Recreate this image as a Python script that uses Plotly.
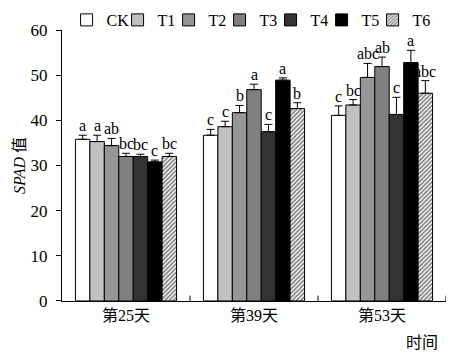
import plotly.graph_objects as go

groups = ["第25天", "第39天", "第53天"]
treatments = ["CK", "T1", "T2", "T3", "T4", "T5", "T6"]
values = {
    "CK": [35.8, 36.7, 41.1],
    "T1": [35.3, 38.6, 43.4],
    "T2": [34.4, 41.7, 49.5],
    "T3": [32.0, 46.8, 51.9],
    "T4": [32.0, 37.5, 41.3],
    "T5": [30.8, 48.9, 52.8],
    "T6": [32.0, 42.6, 46.0],
}
errors = {
    "CK": [0.9, 1.3, 2.1],
    "T1": [1.4, 1.2, 1.2],
    "T2": [1.6, 1.6, 3.1],
    "T3": [0.7, 1.2, 2.1],
    "T4": [0.5, 1.6, 3.8],
    "T5": [0.4, 0.5, 2.7],
    "T6": [0.7, 1.3, 2.8],
}
letters = {
    "CK": ["a", "c", "c"],
    "T1": ["a", "c", "bc"],
    "T2": ["ab", "b", "abc"],
    "T3": ["bc", "a", "ab"],
    "T4": ["bc", "c", "c"],
    "T5": ["c", "a", "a"],
    "T6": ["bc", "b", "abc"],
}
colors = {
    "CK": "#ffffff", "T1": "#c0c0c0", "T2": "#969696", "T3": "#808080",
    "T4": "#333333", "T5": "#000000", "T6": "#ffffff",
}

FONT = "Liberation Serif, Tinos, Times New Roman, DejaVu Serif, Noto Sans CJK SC, serif"
bargap = 0.21
xpos = list(range(len(groups)))

fig = go.Figure()
for t in treatments:
    marker = dict(color=colors[t], line=dict(color="black", width=1))
    extra = {}
    if t == "T6":
        marker["pattern"] = dict(shape="/", fgcolor="#000000", bgcolor="#ffffff",
                                 size=3, solidity=0.55)
        extra["legendwidth"] = 25
    fig.add_trace(go.Bar(
        x=xpos, y=values[t], name=t, marker=marker,
        error_y=dict(type="data", symmetric=False, array=errors[t],
                     arrayminus=[0] * len(groups), color="black",
                     thickness=1, width=4),
        **extra,
    ))

n = len(treatments)
w = (1 - bargap) / n
annotations = []
for i, t in enumerate(treatments):
    for g in xpos:
        annotations.append(dict(
            x=g + (i - (n - 1) / 2) * w, y=values[t][g] + errors[t][g],
            xref="x", yref="y", text=letters[t][g], showarrow=False,
            yanchor="bottom", yshift=-1,
            font=dict(family=FONT, size=16, color="black"),
        ))
annotations.append(dict(
    x=1.0, y=-0.1395, xref="paper", yref="paper", text="时间", showarrow=False,
    xanchor="right", yanchor="middle", xshift=-6,
    font=dict(family=FONT, size=16, color="black"),
))

shapes = []
for b in [0.5, 1.5, 2.5]:
    shapes.append(dict(type="line", xref="x", yref="y domain", x0=b, x1=b,
                       y0=0, y1=0.02, line=dict(color="black", width=1)))

fig.update_layout(
    width=455, height=353,
    margin=dict(l=62, r=9, t=0, b=52),
    plot_bgcolor="white", paper_bgcolor="white",
    barmode="group", bargap=bargap, bargroupgap=0,
    font=dict(family=FONT, size=16, color="black"),
    showlegend=True,
    legend=dict(orientation="h", x=0.038, y=0.9336, xanchor="left", yanchor="middle",
                font=dict(family=FONT, size=16), itemwidth=30, indentation=-10,
                entrywidth=16, entrywidthmode="pixels",
                bgcolor="rgba(0,0,0,0)", tracegroupgap=0),
    xaxis=dict(tickvals=xpos, ticktext=groups, range=[-0.5, 2.5], automargin=False,
               showline=True, linecolor="black", linewidth=1, ticks="",
               showgrid=False, zeroline=False,
               tickfont=dict(family=FONT, size=16)),
    yaxis=dict(range=[0, 60], dtick=10, domain=[0, 0.9003], automargin=False,
               showline=True, linecolor="black",
               linewidth=1, ticks="outside", ticklen=5, tickcolor="black",
               showgrid=False, zeroline=False, ticklabelstandoff=5,
               tickfont=dict(family=FONT, size=17),
               title=dict(text="<i>SPAD</i> 值", standoff=0,
                          font=dict(family=FONT, size=16))),
    annotations=annotations,
    shapes=shapes,
)

fig.write_html("out.html")
